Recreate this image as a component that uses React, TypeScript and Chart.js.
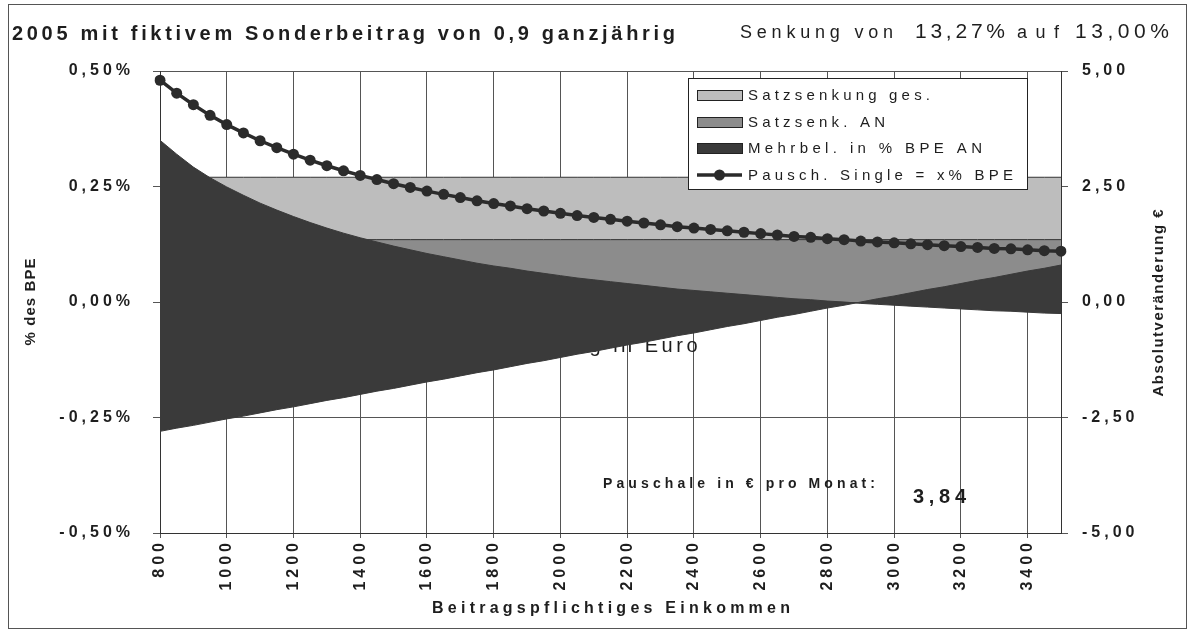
import React, { useEffect, useRef } from 'react';
import { Chart, registerables } from 'chart.js';

Chart.register(...registerables);

// Beitragspflichtiges Einkommen (categories)
const incomes = [
  800, 850, 900, 950, 1000, 1050, 1100, 1150, 1200, 1250, 1300, 1350, 1400, 1450,
  1500, 1550, 1600, 1650, 1700, 1750, 1800, 1850, 1900, 1950, 2000, 2050, 2100,
  2150, 2200, 2250, 2300, 2350, 2400, 2450, 2500, 2550, 2600, 2650, 2700, 2750,
  2800, 2850, 2900, 2950, 3000, 3050, 3100, 3150, 3200, 3250, 3300, 3350, 3400,
  3450, 3500,
];

// Pausch. Single = x% BPE (left axis, %)
const pauschPct = [
  0.480, 0.452, 0.427, 0.404, 0.384, 0.366, 0.349, 0.334, 0.320, 0.307, 0.295,
  0.284, 0.274, 0.265, 0.256, 0.248, 0.240, 0.233, 0.226, 0.219, 0.213, 0.208,
  0.202, 0.197, 0.192, 0.187, 0.183, 0.179, 0.175, 0.171, 0.167, 0.163, 0.160,
  0.157, 0.154, 0.151, 0.148, 0.145, 0.142, 0.140, 0.137, 0.135, 0.132, 0.130,
  0.128, 0.126, 0.124, 0.122, 0.120, 0.118, 0.116, 0.115, 0.113, 0.111, 0.110,
];

// Mehrbel. in % BPE AN (left axis, %)
const mehrbelPct = [
  0.350, 0.320, 0.292, 0.269, 0.249, 0.231, 0.214, 0.199, 0.185, 0.172, 0.160,
  0.149, 0.139, 0.130, 0.121, 0.113, 0.105, 0.098, 0.091, 0.084, 0.078, 0.073,
  0.067, 0.062, 0.057, 0.052, 0.048, 0.044, 0.040, 0.036, 0.032, 0.028, 0.025,
  0.022, 0.019, 0.016, 0.013, 0.010, 0.007, 0.005, 0.002, 0.000, -0.003, -0.005,
  -0.007, -0.009, -0.011, -0.013, -0.015, -0.017, -0.019, -0.020, -0.022, -0.024,
  -0.025,
];

// Absolutveränderung in Euro (right axis, €)
const absEuro = [
  -2.80, -2.73, -2.67, -2.60, -2.53, -2.47, -2.40, -2.33, -2.27, -2.20, -2.13,
  -2.07, -2.00, -1.93, -1.87, -1.80, -1.73, -1.67, -1.60, -1.53, -1.47, -1.40,
  -1.33, -1.27, -1.20, -1.13, -1.07, -1.00, -0.93, -0.87, -0.80, -0.73, -0.67,
  -0.60, -0.53, -0.47, -0.40, -0.33, -0.27, -0.20, -0.13, -0.07, 0.00, 0.07,
  0.13, 0.20, 0.27, 0.33, 0.40, 0.47, 0.53, 0.60, 0.67, 0.73, 0.80,
];

// Satzsenkung ges. (left axis, %)
const satzGesPct = [
  0.27, 0.27, 0.27, 0.27, 0.27, 0.27, 0.27, 0.27, 0.27, 0.27, 0.27, 0.27, 0.27,
  0.27, 0.27, 0.27, 0.27, 0.27, 0.27, 0.27, 0.27, 0.27, 0.27, 0.27, 0.27, 0.27,
  0.27, 0.27, 0.27, 0.27, 0.27, 0.27, 0.27, 0.27, 0.27, 0.27, 0.27, 0.27, 0.27,
  0.27, 0.27, 0.27, 0.27, 0.27, 0.27, 0.27, 0.27, 0.27, 0.27, 0.27, 0.27, 0.27,
  0.27, 0.27, 0.27,
];

// Satzsenk. AN (left axis, %)
const satzAnPct = [
  0.135, 0.135, 0.135, 0.135, 0.135, 0.135, 0.135, 0.135, 0.135, 0.135, 0.135,
  0.135, 0.135, 0.135, 0.135, 0.135, 0.135, 0.135, 0.135, 0.135, 0.135, 0.135,
  0.135, 0.135, 0.135, 0.135, 0.135, 0.135, 0.135, 0.135, 0.135, 0.135, 0.135,
  0.135, 0.135, 0.135, 0.135, 0.135, 0.135, 0.135, 0.135, 0.135, 0.135, 0.135,
  0.135, 0.135, 0.135, 0.135, 0.135, 0.135, 0.135, 0.135, 0.135, 0.135, 0.135,
];

const legendLabels = [
  'Satzsenkung ges.',
  'Satzsenk. AN',
  'Mehrbel. in % BPE AN',
  'Pausch. Single = x% BPE',
];

const titleText = '2005 mit fiktivem Sonderbeitrag von 0,9 ganzjährig';
const xTitle = 'Beitragspflichtiges Einkommen';
const yTitle = '% des BPE';
const y1Title = 'Absolutveränderung €';
const noteLabel = 'Pauschale in € pro Monat:';
const noteValue = '3,84';
const hiddenLabel = 'Absolutveränderung in Euro';

const FONT = '"Liberation Sans", Arial, Helvetica, sans-serif';
const TEXT = '#1e1e1e';
const C_LIGHT = '#bdbdbd';
const C_MID = '#8c8c8c';
const C_DARK = '#3a3a3a';
const C_LINE = '#2b2b2b';
const C_GRID = '#555';

function fitText(ctx: any, text: string, x: number, y: number, font: string, width: number, color = TEXT) {
  ctx.save();
  ctx.font = font;
  ctx.letterSpacing = '0px';
  const w = ctx.measureText(text).width;
  const n = Array.from(text).length;
  const sp = n > 1 ? (width - w) / (n - 1) : 0;
  ctx.letterSpacing = sp + 'px';
  ctx.fillStyle = color;
  ctx.textAlign = 'left';
  ctx.textBaseline = 'alphabetic';
  ctx.fillText(text, x, y);
  ctx.restore();
}

function vertText(ctx: any, text: string, cx: number, cy: number, font: string, width: number) {
  ctx.save();
  ctx.translate(cx, cy);
  ctx.rotate(-Math.PI / 2);
  fitText(ctx, text, -width / 2, 5, font, width);
  ctx.restore();
}

const decorPlugin = {
  id: 'decor',
  beforeDraw(chart: any) {
    const c = chart.ctx;
    c.save();
    c.letterSpacing = '0px';
    c.fillStyle = '#fff';
    c.fillRect(0, 0, chart.width, chart.height);
    c.restore();
    c.letterSpacing = '4px';
  },
  beforeDatasetsDraw(chart: any) {
    const c = chart.ctx;
    c.save();
    c.font = `20px ${FONT}`;
    c.letterSpacing = '3.5px';
    c.fillStyle = TEXT;
    c.textAlign = 'right';
    c.textBaseline = 'alphabetic';
    c.fillText(hiddenLabel, 701, 352);
    c.restore();
  },
  afterDraw(chart: any) {
    const c = chart.ctx;
    c.letterSpacing = '0px';
    // titles
    fitText(c, titleText, 12, 40, `bold 20px ${FONT}`, 663);
    fitText(c, 'Senkung von', 740, 38, `18px ${FONT}`, 153);
    fitText(c, '13,27%', 915, 38, `21px ${FONT}`, 90);
    fitText(c, 'auf', 1017, 38, `18px ${FONT}`, 42);
    fitText(c, '13,00%', 1075, 38, `21px ${FONT}`, 94);
    // axis titles
    vertText(c, yTitle, 30, 302, `bold 15px ${FONT}`, 87);
    vertText(c, y1Title, 1158, 303, `bold 15px ${FONT}`, 187);
    fitText(c, xTitle, 611 - 179, 613, `bold 16px ${FONT}`, 358);
    // annotations
    fitText(c, noteLabel, 603, 488, `bold 14px ${FONT}`, 272);
    fitText(c, noteValue, 913, 503, `bold 20px ${FONT}`, 53);

    // legend
    c.save();
    c.fillStyle = '#fff';
    c.fillRect(688, 78, 339, 111);
    c.strokeStyle = '#222';
    c.lineWidth = 1;
    c.strokeRect(688.5, 78.5, 339, 111);
    const rows = [95, 122, 148, 175];
    const fills = [C_LIGHT, C_MID, C_DARK];
    for (let i = 0; i < 3; i++) {
      c.fillStyle = fills[i];
      c.fillRect(697, rows[i] - 5, 45, 10);
      c.strokeStyle = '#222';
      c.strokeRect(697.5, rows[i] - 4.5, 45, 10);
    }
    c.strokeStyle = C_LINE;
    c.lineWidth = 3.5;
    c.beginPath();
    c.moveTo(697, rows[3]);
    c.lineTo(742, rows[3]);
    c.stroke();
    c.fillStyle = C_LINE;
    c.beginPath();
    c.arc(719.5, rows[3], 5.5, 0, Math.PI * 2);
    c.fill();
    c.restore();
    const widths = [182, 137, 234, 265];
    for (let i = 0; i < 4; i++) {
      fitText(c, legendLabels[i], 748, rows[i] + 5, `15px ${FONT}`, widths[i]);
    }

    // outer frame
    c.save();
    c.strokeStyle = '#555';
    c.lineWidth = 1;
    c.strokeRect(8.5, 4.5, 1178, 624);
    c.restore();
  },
};

export default function App() {
  const ref = useRef<HTMLCanvasElement | null>(null);

  useEffect(() => {
    if (!ref.current) return;
    const chart = new Chart(ref.current, {
      type: 'line',
      data: {
        labels: incomes,
        datasets: [
          {
            label: legendLabels[3],
            data: pauschPct,
            yAxisID: 'y',
            borderColor: C_LINE,
            borderWidth: 3.5,
            pointRadius: 5.5,
            pointBackgroundColor: C_LINE,
            pointBorderWidth: 0,
            fill: false,
            tension: 0,
            order: 0,
          },
          {
            label: legendLabels[2],
            data: mehrbelPct,
            yAxisID: 'y',
            borderColor: C_DARK,
            backgroundColor: C_DARK,
            borderWidth: 1,
            pointRadius: 0,
            fill: 'origin',
            tension: 0,
            order: 1,
          },
          {
            label: hiddenLabel,
            data: absEuro,
            yAxisID: 'y1',
            borderColor: C_DARK,
            backgroundColor: C_DARK,
            borderWidth: 1,
            pointRadius: 0,
            fill: 'origin',
            tension: 0,
            order: 2,
          },
          {
            label: legendLabels[1],
            data: satzAnPct,
            yAxisID: 'y',
            borderColor: '#333',
            backgroundColor: C_MID,
            borderWidth: 1,
            pointRadius: 0,
            fill: 'origin',
            order: 3,
          },
          {
            label: legendLabels[0],
            data: satzGesPct,
            yAxisID: 'y',
            borderColor: '#333',
            backgroundColor: C_LIGHT,
            borderWidth: 1,
            pointRadius: 0,
            fill: 'origin',
            order: 4,
          },
        ],
      },
      options: {
        responsive: false,
        maintainAspectRatio: false,
        devicePixelRatio: 1,
        animation: false,
        layout: { padding: { top: 71, left: 0, right: 0, bottom: 0 } },
        plugins: {
          legend: { display: false },
          tooltip: { enabled: false },
          title: { display: false },
        },
        scales: {
          x: {
            type: 'category',
            offset: false,
            afterFit: (s: any) => { s.height = 99; },
            grid: {
              color: (ctx: any) => (incomes[ctx.index] % 200 === 0 ? C_GRID : 'rgba(0,0,0,0)'),
              lineWidth: 1,
              tickLength: 5,
              drawTicks: true,
            },
            border: { color: '#333', width: 1 },
            ticks: {
              autoSkip: false,
              maxRotation: 90,
              minRotation: 90,
              padding: 1,
              color: TEXT,
              font: { family: FONT, size: 16, weight: 'bold' },
              callback: (_v: any, i: number) => (incomes[i] % 200 === 0 ? String(incomes[i]) : ''),
            },
          },
          y: {
            position: 'left',
            min: -0.5,
            max: 0.5,
            afterFit: (s: any) => { s.width = 160; },
            grid: { color: C_GRID, lineWidth: 1, tickLength: 7 },
            border: { color: '#333', width: 1 },
            ticks: {
              stepSize: 0.25,
              padding: 19,
              color: TEXT,
              font: { family: FONT, size: 16, weight: 'bold' },
              callback: (v: any) => Number(v).toFixed(2).replace('.', ',') + '%',
            },
          },
          y1: {
            position: 'right',
            min: -5,
            max: 5,
            afterFit: (s: any) => { s.width = 131; },
            grid: { drawOnChartArea: false, color: C_GRID, tickLength: 7 },
            border: { color: '#333', width: 1 },
            ticks: {
              stepSize: 2.5,
              padding: 14,
              color: TEXT,
              font: { family: FONT, size: 16, weight: 'bold' },
              callback: (v: any) => Number(v).toFixed(2).replace('.', ','),
            },
          },
        },
      },
      plugins: [decorPlugin],
    } as any);
    return () => chart.destroy();
  }, []);

  return (
    <div style={{ position: 'fixed', left: 0, top: 0, width: 1192, height: 632, background: '#fff' }}>
      <canvas ref={ref} width={1192} height={632} style={{ display: 'block', width: 1192, height: 632 }} />
    </div>
  );
}
